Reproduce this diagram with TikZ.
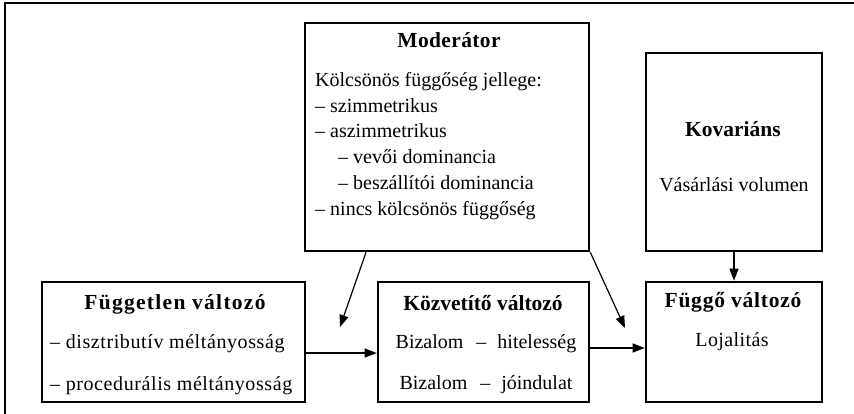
\documentclass[tikz,border=0pt]{standalone}
\usepackage{fontspec}
\setmainfont{Liberation Serif}
\usetikzlibrary{arrows.meta}
\begin{document}
\begin{tikzpicture}[x=1pt,y=-1pt,
  box/.style={draw,line width=2.6pt,rectangle,inner sep=0pt},
  txt/.style={inner sep=0pt,font=\fontsize{20}{24}\selectfont},
  ttl/.style={inner sep=0pt,font=\fontsize{21.5}{26}\selectfont\bfseries},
  arr/.style={line width=1.2pt,-{Triangle[length=12pt,width=9pt]}}]
\useasboundingbox (0,0) rectangle (854,414);
% frame lines
\draw[line width=2pt] (5,414) -- (5,3) -- (854,3);
% boxes
\node[box,minimum width=284pt,minimum height=228pt] (mod) at (447,137) {};
\node[box,minimum width=176pt,minimum height=198pt] (kov) at (734,152) {};
\node[box,minimum width=263pt,minimum height=120pt] (ind) at (173.5,342) {};
\node[box,minimum width=211pt,minimum height=120pt] (med) at (483.5,342) {};
\node[box,minimum width=176pt,minimum height=120pt] (dep) at (734,342) {};
% moderator texts
\node[ttl,anchor=base] (modt) at (449,48) {\addfontfeatures{LetterSpace=1.7}Moderátor};
\node[txt,anchor=base west] (m1) at (315,87) {Kölcsönös függőség jellege:};
\node[txt,anchor=base west] (m2) at (315,113) {– szimmetrikus};
\node[txt,anchor=base west] (m3) at (315,138) {– aszimmetrikus};
\node[txt,anchor=base west] (m4) at (338,164) {– vevői dominancia};
\node[txt,anchor=base west] (m5) at (338,190) {– beszállítói dominancia};
\node[txt,anchor=base west] (m6) at (315,216) {– nincs kölcsönös függőség};
% covariate texts
\node[ttl,anchor=base] (kovt) at (733,137) {Kovariáns};
\node[txt,anchor=base] (k1) at (734,192) {Vásárlási volumen};
% independent variable texts
\node[ttl,anchor=base] (indt) at (175,309) {\addfontfeatures{LetterSpace=6}Független változó};
\node[txt,anchor=base west] (i1) at (50,348) {\addfontfeatures{LetterSpace=3}– disztributív méltányosság};
\node[txt,anchor=base west] (i2) at (50,390) {\addfontfeatures{LetterSpace=3}– procedurális méltányosság};
% mediator texts
\node[ttl,anchor=base] (medt) at (483,310) {Közvetítő változó};
\node[txt,anchor=base] (e1) at (486,348) {Bizalom\hspace{13pt}–\hspace{11pt}hitelesség};
\node[txt,anchor=base] (e2) at (486,389) {Bizalom\hspace{13pt}–\hspace{11pt}jóindulat};
% dependent variable texts
\node[ttl,anchor=base] (dept) at (733,307) {\addfontfeatures{LetterSpace=3.5}Függő változó};
\node[txt,anchor=base] (d1) at (732,346) {\addfontfeatures{LetterSpace=2}Lojalitás};
% connectors
\coordinate (ma) at (340,327);
\coordinate (mb) at (625,328);
\draw[arr] ([yshift=-11pt]ind.east) -- ([yshift=-11pt]med.west);
\draw[arr] ([yshift=-6pt]med.east) -- ([yshift=-6pt]dep.west);
\draw[arr] ([xshift=-81pt]mod.south) -- (ma);
\draw[arr] (mod.south east) -- (mb);
\draw[arr] (kov.south) -- (dep.north);
\end{tikzpicture}
\end{document}
